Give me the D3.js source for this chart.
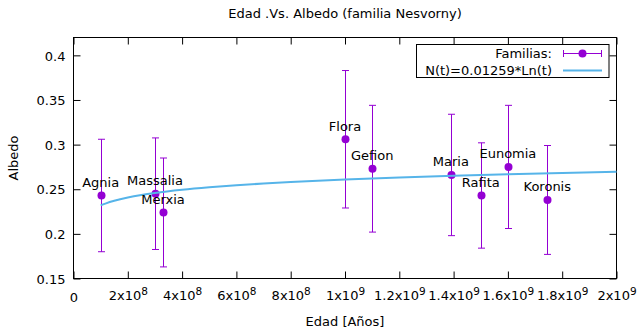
<!DOCTYPE html>
<html><head><meta charset="utf-8">
<script src="https://cdn.jsdelivr.net/npm/d3@7"></script>
<style>
body{margin:0;background:#fff;}
text{font-family:"DejaVu Sans",sans-serif;font-size:13px;fill:#000;}
</style></head>
<body><svg id="c" width="638" height="331"></svg>
<script>
const families = ["Agnia","Massalia","Merxia","Flora","Gefion","Maria","Rafita","Eunomia","Koronis"];
const ages     = [1e8, 3e8, 3.3e8, 1e9, 1.1e9, 1.39e9, 1.5e9, 1.6e9, 1.745e9];
const albedo   = [0.243, 0.245, 0.224, 0.306, 0.273, 0.266, 0.243, 0.275, 0.238];
const albErr   = [0.063, 0.0625, 0.061, 0.077, 0.071, 0.068, 0.059, 0.069, 0.061];
const fitCoef  = 0.01259;
const fitT     = [1e8,1.2e8,1.5e8,2e8,2.5e8,3e8,4e8,5e8,6e8,7e8,8e8,1e9,1.2e9,1.4e9,1.6e9,1.8e9,2e9];
const xTicks   = [0,2e8,4e8,6e8,8e8,1e9,1.2e9,1.4e9,1.6e9,1.8e9,2e9];
const yTicks   = [0.15,0.2,0.25,0.3,0.35,0.4];
const titleText = "Edad .Vs. Albedo (familia Nesvorny)";
const xLabel = "Edad [Años]", yLabel = "Albedo";
const legendData = "Familias:", legendFit = "N(t)=0.01259*Ln(t)";

const purple = "#9400d3", blue = "#56b4e9";
const svg = d3.select("#c");
const L=73.5, R=616.5, T=37.5, B=278.5;
const x = d3.scaleLinear().domain([0,2e9]).range([L,R]);
const y = d3.scaleLinear().domain([0.15,0.42]).range([B,T]);

// axes
const gx = svg.append("g").attr("transform",`translate(0,${B})`)
  .call(d3.axisBottom(x).tickValues(xTicks).tickSizeInner(-7).tickSizeOuter(0).tickPadding(13));
const gxt = svg.append("g").attr("transform",`translate(0,${T})`)
  .call(d3.axisTop(x).tickValues(xTicks).tickSizeInner(-7).tickSizeOuter(0).tickFormat(""));
const gy = svg.append("g").attr("transform",`translate(${L},0)`)
  .call(d3.axisLeft(y).tickValues(yTicks).tickSizeInner(-7).tickSizeOuter(0).tickPadding(8).tickFormat(d=>d3.format("")(+d.toFixed(2))));
const gyr = svg.append("g").attr("transform",`translate(${R},0)`)
  .call(d3.axisRight(y).tickValues(yTicks).tickSizeInner(-7).tickSizeOuter(0).tickFormat(""));
svg.selectAll(".domain").remove();
svg.selectAll(".tick line").attr("stroke","#000").attr("stroke-width",1);
svg.selectAll(".tick text").attr("font-family","DejaVu Sans").attr("font-size",13).attr("fill","#000");
gy.selectAll(".tick text").attr("dy","0.36em");

gx.selectAll(".tick text").each(function(d){
  const t = d3.select(this); t.text(null).attr("dy",null).attr("y",null);
  if(d===0){ t.attr("y",23).text("0"); return; }
  const e = Math.floor(Math.log10(d)+1e-9);
  const m = +(d/Math.pow(10,e)).toFixed(1);
  t.attr("y",21);
  t.append("tspan").text(m+"x10");
  t.append("tspan").attr("font-size",10.5).attr("dy",-4.5).text(e);
});

// frame
svg.append("rect").attr("x",L).attr("y",T).attr("width",R-L).attr("height",B-T)
  .attr("fill","none").attr("stroke","#000").attr("stroke-width",1);

// titles
svg.append("text").attr("x",345).attr("y",18).attr("text-anchor","middle").text(titleText);
svg.append("text").attr("x",345).attr("y",326).attr("text-anchor","middle").text(xLabel);
svg.append("text").attr("transform",`translate(18,158) rotate(-90)`).attr("text-anchor","middle").text(yLabel);

// error bars
const pts = families.map((f,i)=>({f, t:ages[i], a:albedo[i], e:albErr[i]}));
const eb = svg.append("g").attr("stroke",purple).attr("stroke-width",1);
pts.forEach(p=>{
  const cx = Math.round(x(p.t))+0.5;
  eb.append("line").attr("x1",cx).attr("x2",cx).attr("y1",y(p.a-p.e)).attr("y2",y(p.a+p.e));
  eb.append("line").attr("x1",cx-3.5).attr("x2",cx+3.5).attr("y1",y(p.a-p.e)).attr("y2",y(p.a-p.e));
  eb.append("line").attr("x1",cx-3.5).attr("x2",cx+3.5).attr("y1",y(p.a+p.e)).attr("y2",y(p.a+p.e));
});
svg.append("g").selectAll("circle").data(pts).join("circle")
  .attr("cx",d=>Math.round(x(d.t))+0.5).attr("cy",d=>y(d.a)).attr("r",4).attr("fill",purple);

// fit line
const line = d3.line().x(t=>x(t)).y(t=>y(fitCoef*Math.log(t))).curve(d3.curveMonotoneX);
svg.append("path").datum(fitT).attr("d",line).attr("fill","none").attr("stroke",blue).attr("stroke-width",2);

// labels
svg.append("g").selectAll("text").data(pts).join("text")
  .attr("x",d=>x(d.t)).attr("y",d=>y(d.a)-8.5).attr("text-anchor","middle").text(d=>d.f);

// legend
const lg = svg.append("g");
lg.append("rect").attr("x",416.5).attr("y",44.5).attr("width",192.5).attr("height",33)
  .attr("fill","#fff").attr("stroke","#000").attr("stroke-width",1);
lg.append("text").attr("x",552).attr("y",57.5).attr("text-anchor","end").text(legendData);
lg.append("text").attr("x",552).attr("y",74.5).attr("text-anchor","end").text(legendFit);
const ly1 = 53.5, ly2 = 70.5, lx1 = 563, lx2 = 602;
lg.append("line").attr("x1",lx1).attr("x2",lx2).attr("y1",ly1).attr("y2",ly1).attr("stroke",purple);
lg.append("line").attr("x1",lx1+0.5).attr("x2",lx1+0.5).attr("y1",ly1-3.5).attr("y2",ly1+3.5).attr("stroke",purple);
lg.append("line").attr("x1",lx2-0.5).attr("x2",lx2-0.5).attr("y1",ly1-3.5).attr("y2",ly1+3.5).attr("stroke",purple);
lg.append("circle").attr("cx",(lx1+lx2)/2).attr("cy",ly1).attr("r",4).attr("fill",purple);
lg.append("line").attr("x1",lx1).attr("x2",lx2).attr("y1",ly2).attr("y2",ly2).attr("stroke",blue).attr("stroke-width",2);
</script></body></html>
